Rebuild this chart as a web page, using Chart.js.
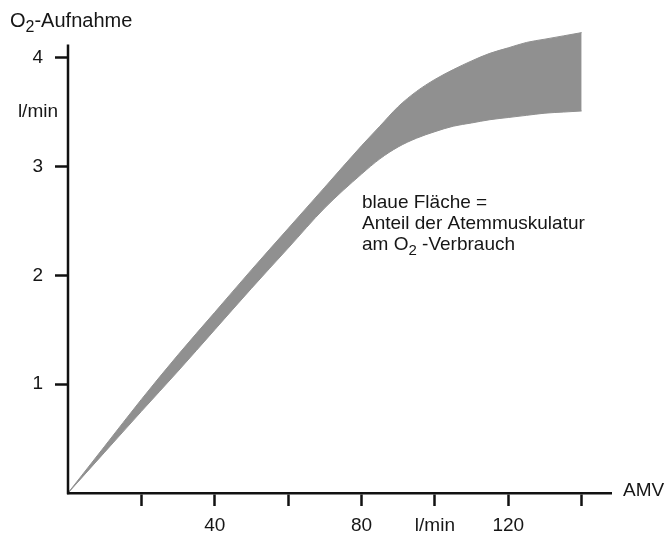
<!DOCTYPE html>
<html>
<head>
<meta charset="utf-8">
<script src="https://cdn.jsdelivr.net/npm/chart.js@4/dist/chart.umd.min.js"></script>
<style>
  html, body { margin: 0; padding: 0; background: #fff; }
  #wrap { width: 667px; height: 538px; position: relative; }
</style>
</head>
<body>
<div id="wrap"><canvas id="o2Chart"></canvas></div>
<script>
// AMV (l/min) and O2 uptake (l/min): upper and lower edge of the shaded band
const amv      = [0, 10, 20, 30, 40, 50, 60, 70, 80, 85, 90, 95, 100, 105, 110, 115, 120, 125, 130, 135, 140];
const upperO2  = [0, 0.43, 0.86, 1.27, 1.66, 2.05, 2.43, 2.81, 3.19, 3.37, 3.55, 3.69, 3.80, 3.89, 3.97, 4.04, 4.09, 4.14, 4.17, 4.20, 4.23];
const lowerO2  = [0, 0.375, 0.75, 1.12, 1.50, 1.88, 2.25, 2.62, 2.93, 3.07, 3.18, 3.26, 3.32, 3.37, 3.40, 3.43, 3.45, 3.47, 3.49, 3.50, 3.51];

const xTicks = [20, 40, 60, 80, 100, 120, 140];
const xTickLabels = ['', '40', '', '80', 'l/min', '120', ''];
const yTicks = [1, 2, 3, 4];
const yTickLabels = ['1', '2', '3', '4'];
const yAxisTop = 4.12;

const FONT = '"Liberation Sans", Arial, sans-serif';
const FS = 19;
const INK = '#161616';
const BAND = 'rgb(144,144,144)';

function toPts(ys) {
  return amv.map((x, i) => ({ x: x, y: ys[i] }));
}

// draws a string with a subscript part: parts = [[text, isSub], ...]
function drawParts(c, parts, x, y, size) {
  let cx = x;
  parts.forEach(p => {
    const sub = p[1];
    c.font = (sub ? Math.round(size * 0.78) : size) + 'px ' + FONT;
    c.fillText(p[0], cx, sub ? y + 5 : y);
    cx += c.measureText(p[0]).width;
  });
}

const labelsPlugin = {
  id: 'labels',
  afterDraw(chart) {
    const c = chart.ctx;
    const ys = chart.scales.y;
    const xs = chart.scales.x;
    const left = chart.chartArea.left;
    c.save();
    // y axis line, shorter than the plot area (band reaches above it)
    c.strokeStyle = '#111';
    c.lineWidth = 2.5;
    c.beginPath();
    c.moveTo(left, ys.getPixelForValue(yAxisTop));
    c.lineTo(left, ys.getPixelForValue(0) + 1.2);
    c.stroke();

    c.fillStyle = INK;
    c.textBaseline = 'alphabetic';
    c.textAlign = 'left';
    drawParts(c, [['O', false], ['2', true], ['-Aufnahme', false]], 10, 27, 20);

    c.textAlign = 'right';
    c.textBaseline = 'middle';
    c.font = FS + 'px ' + FONT;
    c.fillText('l/min', 58, ys.getPixelForValue(3.5));

    c.textAlign = 'left';
    c.fillText('AMV', xs.right + 12, ys.getPixelForValue(0) - 2);

    c.textBaseline = 'alphabetic';
    c.fillText('blaue Fläche =', 362, 208);
    c.fillText('Anteil der Atemmuskulatur', 362, 229);
    drawParts(c, [['am O', false], ['2', true], [' -Verbrauch', false]], 362, 250, FS);
    c.restore();
  }
};

const chartData = {
  datasets: [{
    label: 'obere Grenze',
    data: toPts(upperO2),
    borderColor: BAND,
    borderWidth: 1,
    backgroundColor: BAND,
    fill: '+1',
    pointRadius: 0,
    cubicInterpolationMode: 'monotone'
  }, {
    label: 'untere Grenze',
    data: toPts(lowerO2),
    borderColor: BAND,
    borderWidth: 1,
    fill: false,
    pointRadius: 0,
    cubicInterpolationMode: 'monotone'
  }]
};

const config = {
  type: 'line',
  data: chartData,
  options: {
    responsive: true,
    maintainAspectRatio: false,
    animation: false,
    layout: { padding: { top: 25, right: 56, left: 0, bottom: 0 } },
    plugins: {
      legend: { display: false },
      tooltip: { enabled: false },
      title: { display: false }
    },
    scales: {
      x: {
        type: 'linear',
        min: 0,
        max: 148,
        afterBuildTicks: s => { s.ticks = xTicks.map(v => ({ value: v })); },
        afterFit: s => { s.height = 45; },
        border: { display: true, color: '#111', width: 2.5 },
        grid: { display: true, drawOnChartArea: false, drawTicks: true, tickLength: 13, tickWidth: 2.5, tickColor: '#111' },
        ticks: {
          color: INK,
          font: { family: FONT, size: FS },
          padding: 8,
          maxRotation: 0,
          autoSkip: false,
          callback: v => xTickLabels[xTicks.indexOf(v)]
        }
      },
      y: {
        min: 0,
        max: 4.3,
        afterBuildTicks: s => { s.ticks = yTicks.map(v => ({ value: v })); },
        afterFit: s => { s.width = 68; },
        border: { display: false },
        grid: { display: true, drawOnChartArea: false, drawTicks: true, tickLength: 13, tickWidth: 2.5, tickColor: '#111' },
        ticks: {
          color: INK,
          font: { family: FONT, size: FS },
          padding: 12,
          autoSkip: false,
          callback: v => yTickLabels[yTicks.indexOf(v)]
        }
      }
    }
  },
  plugins: [labelsPlugin]
};

const o2Chart = new Chart(document.getElementById('o2Chart'), config);
</script>
</body>
</html>
